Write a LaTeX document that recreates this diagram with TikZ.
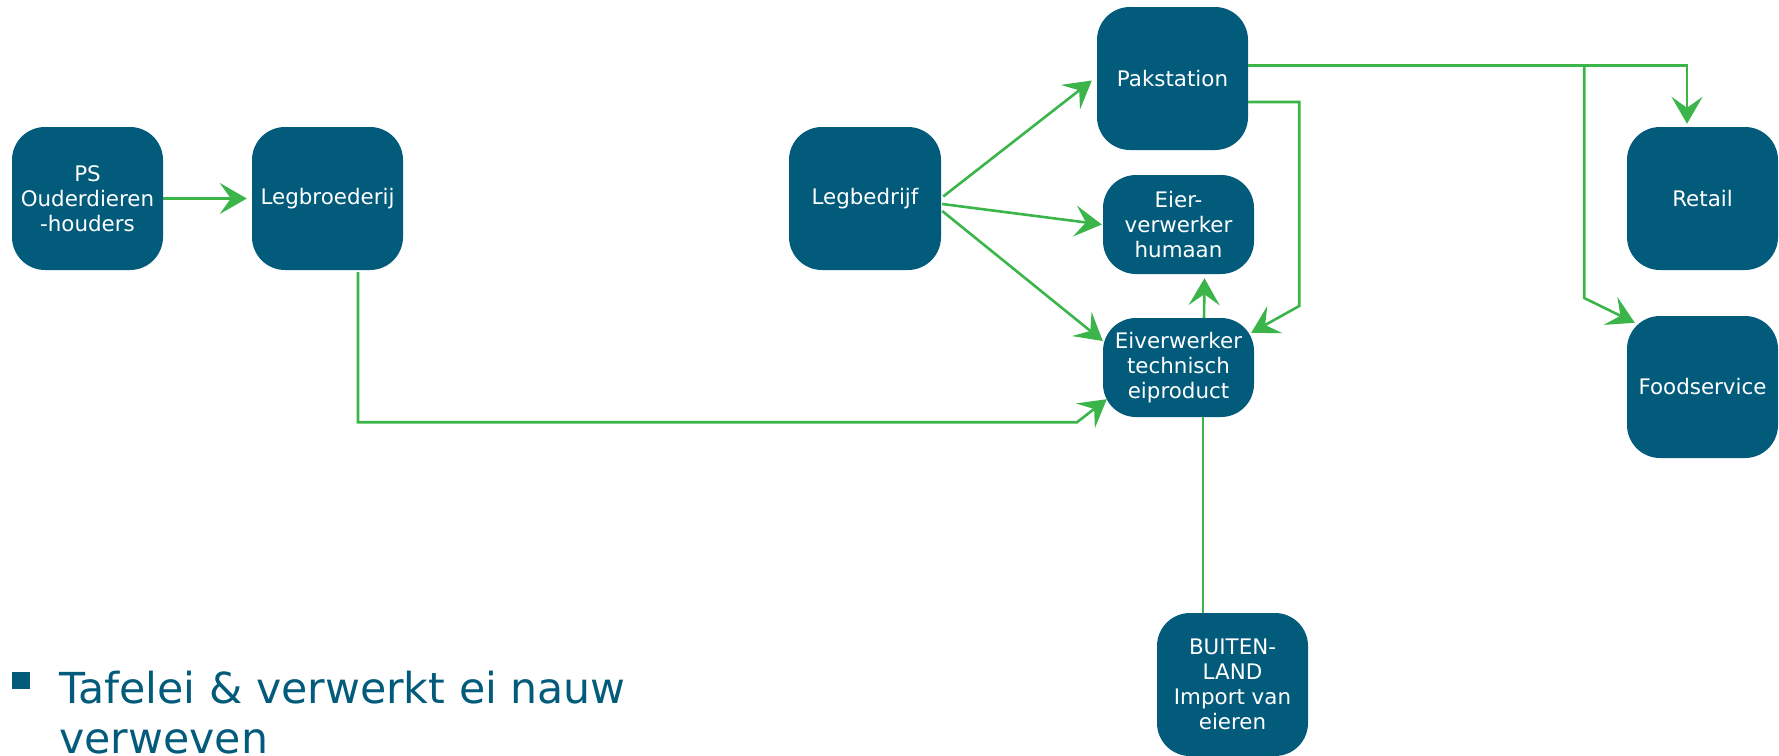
\documentclass[tikz,border=0pt]{standalone}
\usepackage{fontspec}
\setmainfont{DejaVu Sans}
\usetikzlibrary{arrows.meta,calc}
\definecolor{boxblue}{RGB}{3,91,124}
\definecolor{arrgreen}{RGB}{59,181,74}
\begin{document}
\begin{tikzpicture}[x=1pt,y=-1pt,
  box/.style={draw=none,fill=boxblue,rounded corners=33pt,inner sep=0pt,
    minimum width=151pt,minimum height=143pt,text=white,align=center,
    font=\fontsize{21.4}{25}\selectfont},
  smallbox/.style={box,minimum height=99pt},
  conn/.style={draw=arrgreen,line width=2.6pt},
  arr/.style={conn,-{Stealth[length=27pt,width=31pt,inset=11pt]}}]
\useasboundingbox (0,0) rectangle (1779,755);
\node[box] (ps) at (87.5,198.5) {PS\\Ouderdieren\\-houders};
\node[box] (legbr) at (327.5,198.5) {Legbroederij};
\node[box,minimum width=152pt] (legb) at (865,198.5) {Legbedrijf};
\node[box] (pak) at (1172.5,78.5) {Pakstation};
\node[smallbox] (hum) at (1178.5,224.5) {Eier-\\verwerker\\humaan};
\node[smallbox] (tech) at (1178.5,367.5) {Eiverwerker\\technisch\\eiproduct};
\node[box] (retail) at (1702.5,198.5) {Retail};
\node[box,minimum height=142pt] (food) at (1702.5,387) {Foodservice};
\node[box] (buit) at (1232.5,684.5) {BUITEN-\\LAND\\Import van\\eieren};
% connectors
\draw[arr] (ps.east) -- ($(legbr.west)+(-5,0)$);
\draw[arr] ($(legbr.south)+(30.5,2)$) -- ++(0,150) -- ++(719,0) -- ($(tech.south west)+(4,-18)$);
\draw[arr] ($(legb.east)+(2,-2)$) -- ($(pak.west)+(-5,2)$);
\draw[arr] ($(legb.east)+(1,5.5)$) -- ($(hum.west)+(-1,0)$);
\draw[arr] ($(legb.east)+(1,12.5)$) -- ($(tech.west)+(0,-26.5)$);
\draw[arr] ($(tech.north)+(25.5,0)$) -- ($(hum.south)+(26,4)$);
\draw[arr] ($(pak.east)+(0,23.5)$) -- ++(51,0) -- ++(0,204) -- ($(tech.north east)+(-3,15)$);
\draw[arr] ($(pak.east)+(0,-13)$) -| ($(retail.north)+(-15.5,-3)$);
\draw[arr] ($(pak.east)+(0,-13)$) -- ++(336,0) -- ++(0,232.5) -- ($(food.north west)+(8,7)$);
\draw[conn] ($(buit.north)+(-29.5,0)$) -- ($(tech.south)+(24.5,0)$);
% bullet text
\node[fill=boxblue,minimum width=18pt,minimum height=17pt,inner sep=0pt] (bullet) at (21,680.5) {};
\node[anchor=north west,inner sep=0pt,align=left,text=boxblue,
  font=\fontsize{42.7}{50}\selectfont] (txt) at (59,670.5) {Tafelei \& verwerkt ei nauw\\verweven};
\end{tikzpicture}
\end{document}
